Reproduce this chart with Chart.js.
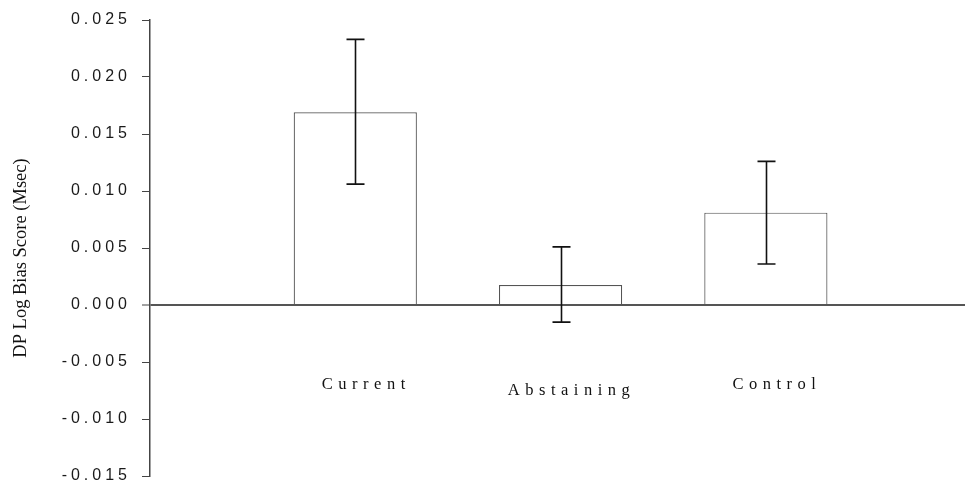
<!DOCTYPE html>
<html>
<head>
<meta charset="utf-8">
<script src="https://cdn.jsdelivr.net/npm/chart.js@4"></script>
<style>
  html, body { margin: 0; padding: 0; background: #fff; }
  #wrap { width: 965px; height: 486px; }
</style>
</head>
<body>
<div id="wrap"><canvas id="c"></canvas></div>
<script>
// Group names and mean DP log bias scores with their error-bar ends
const categories = ['Current', 'Abstaining', 'Control'];
const means = [0.0169, 0.00175, 0.0081];
const errHigh = [0.0233, 0.0051, 0.0126];
const errLow = [0.0106, -0.0015, 0.0036];
const yTicks = [-0.015, -0.010, -0.005, 0.000, 0.005, 0.010, 0.015, 0.020, 0.025];
const yTitle = 'DP Log Bias Score (Msec)';

// Letter-spaced tick text
const spacingPlugin = {
  id: 'spacing',
  beforeDraw(chart) { chart.ctx.letterSpacing = '4px'; }
};

// Whisker lines for each bar
const errorBars = {
  id: 'errorBars',
  afterDatasetsDraw(chart) {
    const { ctx, scales: { x, y } } = chart;
    ctx.save();
    ctx.strokeStyle = '#111';
    ctx.lineWidth = 1.6;
    categories.forEach((c, i) => {
      const px = Math.round(x.getPixelForValue(i + 1)) + 0.5;
      const top = y.getPixelForValue(errHigh[i]);
      const bot = y.getPixelForValue(errLow[i]);
      ctx.beginPath();
      ctx.moveTo(px, top); ctx.lineTo(px, bot);
      ctx.moveTo(px - 9, top); ctx.lineTo(px + 9, top);
      ctx.moveTo(px - 9, bot); ctx.lineTo(px + 9, bot);
      ctx.stroke();
    });
    ctx.restore();
  }
};

// Group names under the zero line and the rotated y-axis title
const textPlugin = {
  id: 'texts',
  afterDraw(chart, args, opts) {
    const { ctx, scales: { x, y } } = chart;
    ctx.save();
    ctx.fillStyle = '#111';
    ctx.font = '16.5px "Liberation Serif", "Times New Roman", serif';
    ctx.letterSpacing = '5.5px';
    ctx.textAlign = 'center';
    ctx.textBaseline = 'alphabetic';
    const zero = y.getPixelForValue(0);
    categories.forEach((c, i) => {
      ctx.fillText(c, x.getPixelForValue(i + 1) + opts.labelShift, zero + opts.labelDrop + (opts.extraDrop[i] || 0));
    });
    ctx.letterSpacing = '0px';
    ctx.font = '18.5px "Liberation Serif", "Times New Roman", serif';
    ctx.translate(opts.titleX, opts.titleY);
    ctx.rotate(-Math.PI / 2);
    ctx.textBaseline = 'middle';
    ctx.fillText(yTitle, 0, 0);
    ctx.restore();
  }
};

new Chart(document.getElementById('c'), {
  type: 'bar',
  data: {
    datasets: [{
      data: categories.map((c, i) => ({ x: i + 1, y: means[i] })),
      backgroundColor: '#fff',
      borderColor: '#555',
      borderWidth: 1.2,
      barPercentage: 0.6,
      categoryPercentage: 1
    }]
  },
  plugins: [spacingPlugin, errorBars, textPlugin],
  options: {
    responsive: true,
    maintainAspectRatio: false,
    animation: false,
    layout: { padding: { top: 20, bottom: 10, left: 0, right: 0 } },
    plugins: {
      legend: { display: false },
      tooltip: { enabled: false },
      texts: { labelDrop: 84, labelShift: 11, extraDrop: [0, 6, 0], titleX: 21, titleY: 258 }
    },
    scales: {
      x: {
        type: 'linear',
        min: 0,
        max: 3.97,
        offset: false,
        display: false,
        afterBuildTicks(scale) { scale.ticks = [0, 1, 2, 3].map(v => ({ value: v })); }
      },
      y: {
        min: -0.015,
        max: 0.025,
        afterBuildTicks(scale) { scale.ticks = yTicks.map(v => ({ value: v })); },
        afterFit(scale) {
          scale.width = 150;
          scale.paddingTop = 0;
          scale.paddingBottom = 0;
        },
        border: { display: true, color: '#444', width: 1.5 },
        grid: {
          drawOnChartArea: true,
          drawTicks: true,
          tickLength: 8,
          tickColor: '#444',
          tickWidth: 1,
          color: ctx => (ctx.tick && ctx.tick.value === 0) ? '#555' : 'rgba(0,0,0,0)',
          lineWidth: ctx => (ctx.tick && ctx.tick.value === 0) ? 2 : 1
        },
        ticks: {
          padding: 11,
          color: '#1a1a1a',
          font: { family: '"Liberation Sans", Arial, sans-serif', size: 16 },
          callback: v => v.toFixed(3)
        }
      }
    }
  }
});
</script>
</body>
</html>
